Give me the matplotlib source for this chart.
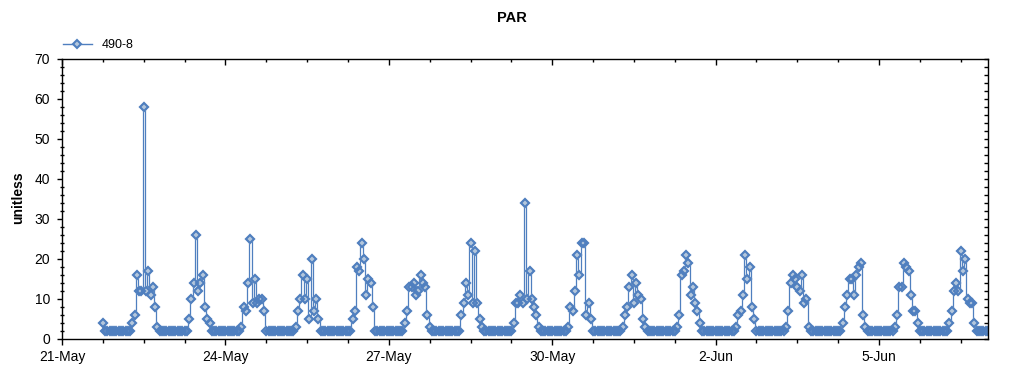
import matplotlib
matplotlib.use("Agg")
import matplotlib.pyplot as plt
import matplotlib.dates as mdates
import pandas as pd
from matplotlib.lines import Line2D
from matplotlib.ticker import MultipleLocator, FuncFormatter

plt.rcParams['font.family'] = ['Liberation Sans', 'DejaVu Sans']

# ---------------- data ----------------
title = "PAR"
y_label = "unitless"
series_name = "490-8"

first_time = "2014-05-21 18:00"
first_value = 4
last_time = "2014-06-07 00:00"
night_value = 2           # value recorded at all non-daylight hours

day_dates = ["2014-05-22", "2014-05-23", "2014-05-24", "2014-05-25",
             "2014-05-26", "2014-05-27", "2014-05-28", "2014-05-29",
             "2014-05-30", "2014-05-31", "2014-06-01", "2014-06-02",
             "2014-06-03", "2014-06-04", "2014-06-05", "2014-06-06"]
day_start_hours = [7, 8, 7, 7, 8, 7, 8, 7, 7, 7, 7, 9, 7, 8, 7, 7]

vals_22may = [4, 6, 16, 12, 12, 58, 12, 17, 11, 13, 8, 3]
vals_23may = [5, 10, 14, 26, 12, 14, 16, 8, 5, 4]
vals_24may = [3, 8, 7, 14, 25, 9, 15, 9, 10, 10, 7]
vals_25may = [3, 7, 10, 16, 10, 15, 5, 20, 7, 10, 5]
vals_26may = [5, 7, 18, 17, 24, 20, 11, 15, 14, 8]
vals_27may = [4, 7, 13, 13, 14, 11, 12, 16, 14, 13, 6, 3]
vals_28may = [6, 9, 14, 11, 24, 9, 22, 9, 5, 3]
vals_29may = [4, 9, 9, 11, 9, 34, 10, 17, 10, 8, 6, 3]
vals_30may = [3, 8, 7, 12, 21, 16, 24, 24, 6, 9, 5]
vals_31may = [3, 6, 8, 13, 16, 9, 14, 11, 10, 5, 3]
vals_01jun = [3, 6, 16, 17, 21, 19, 11, 13, 9, 7, 4]
vals_02jun = [3, 6, 7, 11, 21, 15, 18, 8, 5]
vals_03jun = [3, 7, 14, 16, 15, 13, 12, 16, 9, 10, 3]
vals_04jun = [4, 8, 11, 15, 15, 11, 16, 18, 19, 6, 3]
vals_05jun = [3, 6, 13, 13, 19, 18, 17, 11, 7, 7, 4]
vals_06jun = [4, 7, 12, 14, 12, 22, 17, 20, 10, 9, 9, 4]

day_values = [vals_22may, vals_23may, vals_24may, vals_25may, vals_26may,
              vals_27may, vals_28may, vals_29may, vals_30may, vals_31may,
              vals_01jun, vals_02jun, vals_03jun, vals_04jun, vals_05jun,
              vals_06jun]

x_start = "2014-05-21"
x_end = "2014-06-07"

# ---------------- build hourly series ----------------
times = pd.date_range(first_time, last_time, freq="h")
values = pd.Series(float(night_value), index=times)
values.iloc[0] = first_value
for d, h0, vals in zip(day_dates, day_start_hours, day_values):
    t0 = pd.Timestamp(d) + pd.Timedelta(hours=h0)
    idx = pd.date_range(t0, periods=len(vals), freq="h")
    values.loc[idx] = vals

# ---------------- plot ----------------
line_col = "#4f7fbf"
face_col = "#b4c7dc"
ms, mew = 4.4, 1.5

fig = plt.figure(figsize=(10.24, 3.75), dpi=100)
L, R, T, B = 62, 988, 59, 338.5
ax = fig.add_axes([L / 1024, 1 - B / 375, (R - L) / 1024, (B - T) / 375])

# connecting line (step style), then all marker faces, then all outlines
ax.plot(values.index, values.values, color=line_col, lw=0.9,
        drawstyle="steps-mid")
ax.plot(values.index, values.values, ls="none", marker="D", ms=ms,
        mfc=face_col, mec=face_col, mew=mew, antialiased=False)
ax.plot(values.index, values.values, ls="none", marker="D", ms=ms,
        mfc="none", mec=line_col, mew=mew, antialiased=False)

ax.set_xlim(pd.Timestamp(x_start), pd.Timestamp(x_end))
ax.set_ylim(0, 70)

major_x = pd.date_range(x_start, x_end, freq="3D")
minor_x = pd.date_range(x_start, x_end, freq="18h")
ax.set_xticks(major_x)
ax.set_xticks(minor_x, minor=True)


def date_fmt(x, pos=None):
    d = mdates.num2date(x)
    return f"{d.day}-{d.strftime('%b')}"


ax.xaxis.set_major_formatter(FuncFormatter(date_fmt))
ax.yaxis.set_major_locator(MultipleLocator(10))
ax.yaxis.set_minor_locator(MultipleLocator(2))

for s in ax.spines.values():
    s.set_linewidth(1.0)
    s.set_color("black")

ax.tick_params(axis="x", which="major", direction="out", length=4, width=1,
               labelsize=10, pad=4, top=False)
ax.tick_params(axis="x", which="minor", direction="out", length=3, width=1,
               top=False)
ax.tick_params(axis="y", which="major", direction="out", length=3.5, width=1,
               labelsize=10, pad=5, right=False)
ax.tick_params(axis="y", which="minor", direction="inout", length=3.4,
               width=1, right=False)

# top & right: inward ticks without labels
secx = ax.secondary_xaxis("top")
secx.set_xticks(mdates.date2num(major_x))
secx.set_xticks(mdates.date2num(minor_x), minor=True)
secx.tick_params(which="major", direction="in", length=4, width=1,
                 labeltop=False)
secx.tick_params(which="minor", direction="in", length=2.2, width=1)
secx.spines["top"].set_visible(False)

secy = ax.secondary_yaxis("right")
secy.yaxis.set_major_locator(MultipleLocator(10))
secy.yaxis.set_minor_locator(MultipleLocator(2))
secy.tick_params(which="major", direction="in", length=3.2, width=1,
                 labelright=False)
secy.tick_params(which="minor", direction="in", length=3.2, width=1)
secy.spines["right"].set_visible(False)

fig.text(0.5, 1 - 18 / 375, title, ha="center", va="center",
         fontsize=10.5, fontweight="bold")
fig.text(18 / 1024, 1 - 198 / 375, y_label, ha="center", va="center",
         rotation=90, fontsize=10, fontweight="bold")

handle = Line2D([], [], color=line_col, lw=1.0, marker="D", ms=ms,
                mfc=face_col, mec=line_col, mew=mew)
ax.legend([handle], [series_name], loc="center left",
          bbox_to_anchor=(63 / 1024, 1 - 45 / 375),
          bbox_transform=fig.transFigure, frameon=False, fontsize=9,
          borderpad=0, borderaxespad=0, handlelength=2.3, handletextpad=0.8)

fig.savefig("out.png", dpi=100)
